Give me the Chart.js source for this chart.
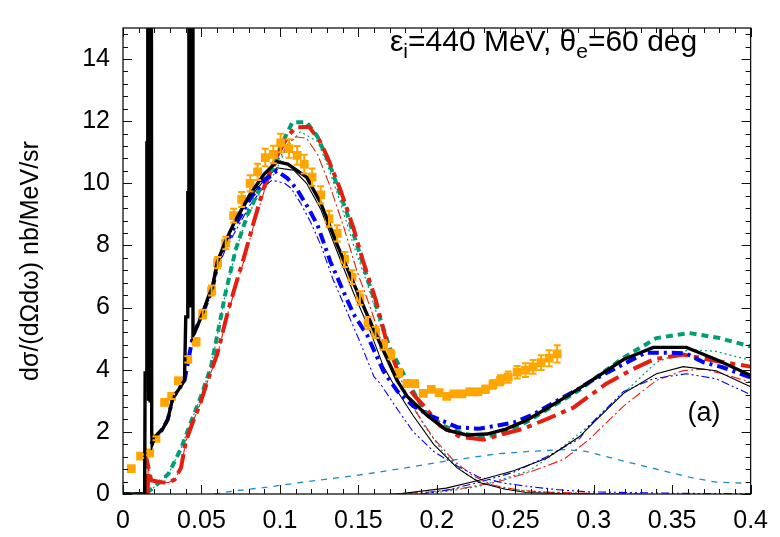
<!DOCTYPE html>
<html>
<head>
<meta charset="utf-8">
<script src="https://cdn.jsdelivr.net/npm/chart.js@4.4.1/dist/chart.umd.min.js"></script>
<style>
  html, body { margin: 0; padding: 0; background: #fff; }
</style>
</head>
<body>
<canvas id="chart" width="780" height="537"></canvas>
<script>
// energy transfer omega (GeV) on x, cross section on y

// thick black: full result (with the two sharp low-omega peaks)
const blackTotalX = [0, 0.0138, 0.0141, 0.0150, 0.0152, 0.0156, 0.0158, 0.0163, 0.0168, 0.0173, 0.0178, 0.0183, 0.0186, 0.020, 0.0222, 0.0254, 0.0286, 0.0317, 0.036, 0.0392, 0.0400, 0.0410, 0.0413, 0.0418, 0.0420, 0.0425, 0.0430, 0.0435, 0.0440, 0.0446, 0.0476, 0.051, 0.054, 0.057, 0.060, 0.065, 0.071, 0.081, 0.090, 0.098, 0.105, 0.117, 0.126, 0.1365, 0.147, 0.1577, 0.168, 0.1746, 0.181, 0.194, 0.206, 0.219, 0.232, 0.244, 0.257, 0.270, 0.283, 0.297, 0.319, 0.338, 0.359, 0.378, 0.40];
const blackTotalY = [0, 0, 3.9, 3.9, 11.3, 11.3, 40, 3, 40, 3, 40, 2, 1.6, 1.79, 1.94, 2.1, 2.41, 3.09, 3.4, 3.66, 5.7, 5.7, 9.7, 9.7, 40, 6, 40, 6, 40, 5.1, 5.43, 5.85, 6.3, 6.65, 7.45, 8.1, 8.75, 9.65, 10.3, 10.7, 10.62, 10.2, 9.37, 8.02, 6.78, 5.53, 4.39, 3.66, 3.15, 2.52, 2.06, 1.9, 1.93, 2.09, 2.37, 2.75, 3.15, 3.6, 4.33, 4.72, 4.72, 4.33, 3.82];

// thin black: quasi-elastic and second-peak parts
const blackQeX = [0.045, 0.051, 0.057, 0.060, 0.065, 0.071, 0.081, 0.090, 0.098, 0.1048, 0.109, 0.117, 0.126, 0.1365, 0.147, 0.1577, 0.166, 0.175, 0.185, 0.198, 0.213, 0.227, 0.243, 0.257, 0.28, 0.30];
const blackQeY = [5.1, 5.85, 6.6, 7.4, 8.05, 8.7, 9.55, 10.1, 10.5, 10.45, 10.42, 10.0, 9.17, 7.8, 6.46, 5.22, 4.1, 3.3, 2.52, 1.6, 0.84, 0.37, 0.16, 0.05, 0.01, 0];
const blackDeltaX = [0.175, 0.206, 0.227, 0.249, 0.270, 0.291, 0.302, 0.319, 0.340, 0.357, 0.378, 0.40];
const blackDeltaY = [0, 0.19, 0.44, 0.75, 1.15, 1.85, 2.4, 3.24, 3.87, 4.1, 3.97, 3.45];

// blue
const blueTotalX = [0.018, 0.020, 0.0254, 0.0286, 0.0317, 0.036, 0.0392, 0.0446, 0.051, 0.057, 0.060, 0.065, 0.071, 0.081, 0.090, 0.098, 0.1048, 0.111, 0.1185, 0.124, 0.132, 0.141, 0.147, 0.1556, 0.162, 0.166, 0.175, 0.185, 0.196, 0.213, 0.227, 0.249, 0.262, 0.274, 0.291, 0.297, 0.319, 0.333, 0.350, 0.359, 0.370, 0.382, 0.40];
const blueTotalY = [1.6, 1.79, 2.1, 2.41, 3.09, 3.4, 3.66, 5.1, 5.85, 6.6, 7.35, 8.0, 8.6, 9.5, 10.1, 10.4, 10.16, 9.8, 9.17, 8.65, 7.5, 6.46, 5.79, 5.11, 4.4, 3.95, 3.3, 2.83, 2.52, 2.15, 2.1, 2.3, 2.57, 2.93, 3.4, 3.6, 4.18, 4.55, 4.55, 4.52, 4.24, 4.08, 3.75];
const blueQeX = [0.045, 0.051, 0.057, 0.060, 0.065, 0.071, 0.081, 0.090, 0.095, 0.103, 0.107, 0.113, 0.1195, 0.126, 0.134, 0.143, 0.151, 0.160, 0.164, 0.175, 0.185, 0.198, 0.213, 0.227, 0.244, 0.262, 0.281, 0.297, 0.33, 0.36, 0.40];
const blueQeY = [5.1, 5.8, 6.5, 7.2, 7.85, 8.4, 9.3, 9.9, 10.1, 10.0, 9.85, 9.38, 8.76, 8.02, 6.89, 5.84, 4.9, 3.77, 3.55, 2.72, 2.0, 1.37, 0.9, 0.54, 0.34, 0.22, 0.12, 0.07, 0.04, 0.02, 0.01];
const blueDeltaX = [0.19, 0.206, 0.227, 0.249, 0.270, 0.291, 0.297, 0.319, 0.338, 0.359, 0.378, 0.40];
const blueDeltaY = [0, 0.12, 0.38, 0.7, 1.2, 1.78, 2.2, 3.3, 3.71, 3.87, 3.71, 3.2];

// red
const redTotalX = [0.0158, 0.016, 0.018, 0.024, 0.029, 0.033, 0.037, 0.040, 0.0444, 0.0487, 0.054, 0.060, 0.067, 0.071, 0.077, 0.0836, 0.090, 0.0963, 0.1048, 0.110, 0.1185, 0.125, 0.130, 0.1386, 0.147, 0.153, 0.161, 0.168, 0.1767, 0.186, 0.192, 0.202, 0.215, 0.230, 0.243, 0.255, 0.270, 0.287, 0.308, 0.325, 0.338, 0.357, 0.378, 0.40];
const redTotalY = [0, 0.9, 0.44, 0.38, 0.37, 0.47, 0.85, 1.68, 2.3, 2.83, 3.66, 4.49, 5.9, 6.6, 7.6, 8.8, 9.9, 10.7, 11.5, 11.8, 11.82, 11.4, 10.88, 9.79, 8.54, 7.5, 6.26, 4.9, 3.76, 3.15, 2.83, 2.2, 1.84, 1.75, 1.94, 2.1, 2.41, 2.78, 3.55, 4.02, 4.33, 4.49, 4.28, 4.1];
const redQeX = [0.0158, 0.016, 0.018, 0.024, 0.029, 0.033, 0.037, 0.040, 0.0444, 0.0487, 0.054, 0.060, 0.067, 0.077, 0.0836, 0.090, 0.0963, 0.1048, 0.110, 0.117, 0.124, 0.132, 0.141, 0.149, 0.158, 0.166, 0.177, 0.187, 0.198, 0.211, 0.223, 0.236, 0.253, 0.27, 0.30, 0.33];
const redQeY = [0, 0.9, 0.44, 0.38, 0.37, 0.47, 0.85, 1.68, 2.3, 2.83, 3.64, 4.45, 5.85, 7.5, 8.7, 9.75, 10.5, 11.25, 11.5, 11.45, 10.93, 9.9, 8.54, 7.19, 5.95, 4.7, 3.5, 2.62, 1.79, 1.06, 0.59, 0.28, 0.12, 0.06, 0.02, 0];
const redDeltaX = [0.17, 0.196, 0.217, 0.238, 0.259, 0.281, 0.297, 0.319, 0.340, 0.357, 0.370, 0.382, 0.40];
const redDeltaY = [0, 0.07, 0.19, 0.38, 0.7, 1.12, 1.75, 2.83, 3.66, 3.97, 4.02, 3.87, 3.6];

// green
const greenTotalX = [0, 0.014, 0.020, 0.029, 0.037, 0.0433, 0.0497, 0.056, 0.0624, 0.065, 0.072, 0.0794, 0.0878, 0.0963, 0.1005, 0.108, 0.117, 0.124, 0.132, 0.143, 0.153, 0.162, 0.170, 0.181, 0.192, 0.204, 0.217, 0.230, 0.240, 0.257, 0.274, 0.291, 0.302, 0.319, 0.340, 0.361, 0.380, 0.40];
const greenTotalY = [0, 0, 0.23, 0.65, 1.47, 2.31, 3.15, 4.08, 5.7, 6.4, 7.9, 9.0, 9.9, 10.55, 11.2, 11.97, 11.97, 11.5, 10.57, 9.0, 7.4, 5.95, 4.7, 3.66, 2.68, 2.2, 1.94, 1.84, 1.94, 2.31, 2.83, 3.35, 3.77, 4.39, 5.02, 5.18, 5.02, 4.75];
const greenQeX = [0.014, 0.020, 0.029, 0.037, 0.0433, 0.0497, 0.056, 0.0624, 0.065, 0.072, 0.0794, 0.0878, 0.0963, 0.1048, 0.113, 0.124, 0.130, 0.1386, 0.147, 0.1556, 0.164, 0.1725, 0.181, 0.192, 0.204, 0.217, 0.227, 0.24, 0.26, 0.29, 0.32];
const greenQeY = [0, 0.23, 0.65, 1.47, 2.31, 3.15, 4.08, 5.7, 6.4, 7.85, 8.95, 9.75, 10.3, 11.2, 11.66, 11.35, 10.63, 9.38, 8.0, 6.78, 5.43, 4.28, 3.2, 2.2, 1.35, 0.7, 0.4, 0.2, 0.08, 0.02, 0];
const greenDeltaX = [0.18, 0.206, 0.227, 0.259, 0.276, 0.291, 0.297, 0.319, 0.340, 0.361, 0.378, 0.40];
const greenDeltaY = [0, 0.08, 0.25, 0.75, 1.35, 1.95, 2.2, 3.24, 4.24, 4.65, 4.59, 4.3];

// light blue dashed: common two-nucleon part
const mecX = [0.058, 0.071, 0.092, 0.113, 0.134, 0.156, 0.175, 0.206, 0.238, 0.259, 0.281, 0.295, 0.319, 0.340, 0.361, 0.378, 0.397];
const mecY = [0, 0.1, 0.22, 0.37, 0.5, 0.65, 0.8, 1.06, 1.29, 1.37, 1.43, 1.37, 1.06, 0.8, 0.54, 0.38, 0.35];

// experiment
const expX = [0.0053, 0.0112, 0.017, 0.021, 0.0265, 0.031, 0.0353, 0.0413, 0.0466, 0.0508, 0.0565, 0.0603, 0.0655, 0.0705, 0.0756, 0.081, 0.0858, 0.0907, 0.0958, 0.1005, 0.1058, 0.111, 0.1155, 0.1205, 0.126, 0.1313, 0.1365, 0.1413, 0.146, 0.151, 0.1562, 0.161, 0.166, 0.1707, 0.1757, 0.181, 0.186, 0.1913, 0.1965, 0.2015, 0.2063, 0.211, 0.216, 0.221, 0.2262, 0.231, 0.2358, 0.2406, 0.2455, 0.2512, 0.2565, 0.2614, 0.2665, 0.2716, 0.2767];
const expY = [0.82, 1.22, 1.32, 1.79, 2.95, 3.14, 3.64, 4.33, 4.9, 5.79, 6.55, 7.45, 8.08, 8.96, 9.48, 10.0, 10.37, 10.83, 10.93, 11.3, 11.12, 10.9, 10.62, 10.2, 9.63, 8.86, 8.39, 7.55, 6.98, 6.31, 5.5, 5.2, 4.8, 4.49, 3.9, 3.55, 3.55, 3.24, 3.37, 3.26, 3.14, 3.22, 3.22, 3.29, 3.29, 3.37, 3.53, 3.66, 3.76, 3.92, 3.99, 4.09, 4.23, 4.37, 4.51];
const expErr = [0.05, 0.05, 0.06, 0.06, 0.08, 0.08, 0.1, 0.1, 0.12, 0.14, 0.16, 0.18, 0.2, 0.22, 0.24, 0.26, 0.26, 0.28, 0.28, 0.3, 0.3, 0.3, 0.3, 0.28, 0.28, 0.26, 0.26, 0.24, 0.22, 0.22, 0.2, 0.18, 0.16, 0.15, 0.12, 0.1, 0.1, 0.08, 0.08, 0.08, 0.08, 0.08, 0.08, 0.1, 0.1, 0.12, 0.14, 0.16, 0.18, 0.2, 0.22, 0.22, 0.24, 0.26, 0.28];

const xTicks = [0, 0.05, 0.1, 0.15, 0.2, 0.25, 0.3, 0.35, 0.4];
const yTicks = [0, 2, 4, 6, 8, 10, 12, 14];

const FONT = '"Liberation Sans", Arial, sans-serif';
const ORANGE = '#ffa500';
const BLUE = '#0000ff';
const RED = '#e51e10';
const GREEN = '#009e73';
const CYAN = '#1e8bc8';

const pts = (xs, ys) => xs.map((x, i) => ({x: x, y: ys[i]}));

function curve(xs, ys, color, width, dash) {
    return {
        data: pts(xs, ys),
        showLine: true,
        borderColor: color,
        borderWidth: width,
        borderDash: dash || [],
        pointRadius: 0,
        fill: false,
        tension: 0,
    };
}

// error bars + inward ticks, frame and labels
const errorBars = {
    id: 'errorBars',
    afterDatasetsDraw(chart) {
        const {ctx, scales: {x, y}} = chart;
        ctx.save();
        ctx.strokeStyle = ORANGE;
        ctx.lineWidth = 2;
        expX.forEach((v, i) => {
            const px = x.getPixelForValue(v);
            const lo = y.getPixelForValue(expY[i] - expErr[i]);
            const hi = y.getPixelForValue(expY[i] + expErr[i]);
            ctx.beginPath();
            ctx.moveTo(px, lo); ctx.lineTo(px, hi);
            ctx.moveTo(px - 3.5, lo); ctx.lineTo(px + 3.5, lo);
            ctx.moveTo(px - 3.5, hi); ctx.lineTo(px + 3.5, hi);
            ctx.stroke();
        });
        ctx.restore();
    }
};

const frame = {
    id: 'frame',
    afterDraw(chart) {
        const {ctx, chartArea: a, scales: {x, y}} = chart;
        ctx.save();
        ctx.strokeStyle = '#111';
        ctx.lineWidth = 1;
        ctx.beginPath();
        for (let i = 0; i <= 40; i++) {
            const px = Math.round(x.getPixelForValue(i / 100)) + 0.5;
            const len = i % 5 === 0 ? 9 : 5;
            ctx.moveTo(px, a.bottom); ctx.lineTo(px, a.bottom - len);
            ctx.moveTo(px, a.top); ctx.lineTo(px, a.top + len);
        }
        for (let i = 0; i * 0.4 <= 15; i++) {
            const py = Math.round(y.getPixelForValue(i * 0.4)) + 0.5;
            const len = i % 5 === 0 ? 9 : 5;
            ctx.moveTo(a.left, py); ctx.lineTo(a.left + len, py);
            ctx.moveTo(a.right, py); ctx.lineTo(a.right - len, py);
        }
        ctx.stroke();
        ctx.lineWidth = 1.3;
        ctx.strokeRect(a.left, a.top, a.right - a.left, a.bottom - a.top);

        // kinematics label
        ctx.fillStyle = '#000';
        ctx.textBaseline = 'alphabetic';
        let tx = 390;
        const ty = 51;
        const part = (s, size, dy) => {
            ctx.font = size + 'px ' + FONT;
            ctx.fillText(s, tx, ty + dy);
            tx += ctx.measureText(s).width;
        };
        part('\u03b5', 30, 0);
        part('i', 21, 7);
        part('=440 MeV, \u03b8', 30, 0);
        part('e', 21, 7);
        part('=60 deg', 30, 0);

        ctx.font = '27px ' + FONT;
        ctx.textAlign = 'center';
        ctx.fillText('(a)', 704, 421);
        ctx.restore();
    }
};

new Chart(document.getElementById('chart'), {
    type: 'scatter',
    data: {
        datasets: [
            curve(blackTotalX, blackTotalY, '#000', 3.4),
            {
                data: pts(expX, expY),
                pointStyle: 'rect',
                pointRadius: 6.2,
                pointBackgroundColor: ORANGE,
                pointBorderColor: ORANGE,
                pointBorderWidth: 0,
                showLine: false,
            },
            curve(blueTotalX, blueTotalY, BLUE, 4, [11, 5, 3, 5]),
            curve(redTotalX, redTotalY, RED, 4, [20, 6, 5, 6]),
            curve(greenTotalX, greenTotalY, GREEN, 4, [7, 5]),
            curve(blackQeX, blackQeY, '#000', 1.1),
            curve(blackDeltaX, blackDeltaY, '#000', 1.1),
            curve(blueQeX, blueQeY, BLUE, 1.1, [8, 3, 2, 3, 2, 3]),
            curve(blueDeltaX, blueDeltaY, BLUE, 1.1, [8, 3, 2, 3, 2, 3]),
            curve(redQeX, redQeY, RED, 1.1, [10, 3, 2, 3]),
            curve(redDeltaX, redDeltaY, RED, 1.1, [10, 3, 2, 3]),
            curve(greenQeX, greenQeY, GREEN, 1.2, [2, 3]),
            curve(greenDeltaX, greenDeltaY, GREEN, 1.2, [2, 3]),
            curve(mecX, mecY, CYAN, 1.3, [6, 6]),
        ]
    },
    options: {
        responsive: false,
        animation: false,
        layout: {padding: {top: 13, right: 25, left: 0, bottom: 0}},
        plugins: {
            legend: {display: false},
            tooltip: {enabled: false},
        },
        scales: {
            x: {
                type: 'linear',
                min: 0,
                max: 0.4,
                afterFit: s => { s.height = 43; },
                afterBuildTicks: s => { s.ticks = xTicks.map(v => ({value: v})); },
                grid: {display: false, drawTicks: false},
                border: {display: false},
                ticks: {
                    padding: 12,
                    color: '#000',
                    font: {family: FONT, size: 25},
                    maxRotation: 0,
                    callback: v => String(+v.toFixed(2)),
                },
            },
            y: {
                type: 'linear',
                min: 0,
                max: 15,
                afterFit: s => { s.width = 123; },
                afterBuildTicks: s => { s.ticks = yTicks.map(v => ({value: v})); },
                grid: {display: false, drawTicks: false},
                border: {display: false},
                ticks: {
                    padding: 13,
                    color: '#000',
                    font: {family: FONT, size: 25},
                },
                title: {
                    display: true,
                    text: 'd\u03c3/(d\u03a9d\u03c9) nb/MeV/sr',
                    color: '#000',
                    font: {family: FONT, size: 25},
                    padding: {top: 16, bottom: 0},
                },
            },
        },
    },
    plugins: [errorBars, frame],
});
</script>
</body>
</html>
